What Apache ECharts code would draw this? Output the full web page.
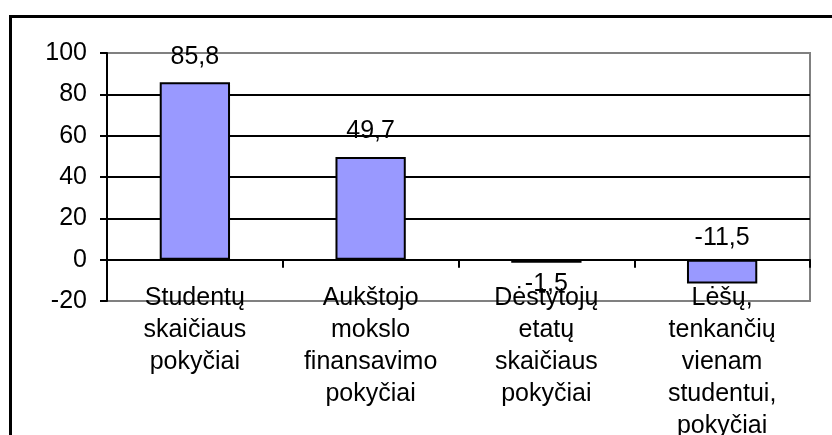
<!DOCTYPE html>
<html>
<head>
<meta charset="utf-8">
<script src="https://cdn.jsdelivr.net/npm/echarts@6/dist/echarts.min.js"></script>
<style>
  html, body { margin: 0; padding: 0; background: #fff; }
  #chart { width: 832px; height: 435px; }
</style>
</head>
<body>
<div id="chart"></div>
<script>
const categories = [
  'Studentų\nskaičiaus\npokyčiai',
  'Aukštojo\nmokslo\nfinansavimo\npokyčiai',
  'Dėstytojų\netatų\nskaičiaus\npokyčiai',
  'Lėšų,\ntenkančių\nvienam\nstudentui,\npokyčiai'
];
const changes = [85.8, 49.7, -1.5, -11.5];
const yTicks = { min: -20, max: 100, step: 20 };

// where the value label sits for each bar (as in the original chart)
const labelSide = ['top', 'top', 'bottom', 'top'];
const labelGap = [13, 13, 9, 9];

const font = '"Liberation Sans", Arial, sans-serif';
const chart = echarts.init(document.getElementById('chart'));

const option = {
  animation: false,
  backgroundColor: '#fff',
  textStyle: { fontFamily: font },
  grid: {
    left: 107, right: 22, top: 53, bottom: 134,
    outerBoundsMode: 'none',
    containLabel: false,
    show: true,
    borderColor: '#808080',
    borderWidth: 2,
    backgroundColor: '#fff'
  },
  graphic: [{
    type: 'rect',
    left: 8, top: 14,
    shape: { width: 900, height: 500 },
    style: { fill: 'none', stroke: '#000', lineWidth: 3 },
    silent: true
  }],
  xAxis: {
    type: 'category',
    data: categories,
    axisLine: { onZero: true, lineStyle: { color: '#000', width: 2 } },
    axisTick: { show: true, length: 8, lineStyle: { color: '#000', width: 2 } },
    axisLabel: {
      interval: 0,
      color: '#000',
      fontSize: 25,
      fontFamily: font,
      lineHeight: 32,
      margin: -19
    },
    splitLine: { show: false }
  },
  yAxis: {
    type: 'value',
    min: yTicks.min,
    max: yTicks.max,
    interval: yTicks.step,
    axisLine: { show: true, lineStyle: { color: '#000', width: 2 } },
    axisTick: { show: true, length: 7, lineStyle: { color: '#000', width: 2 } },
    axisLabel: { color: '#000', fontSize: 25, fontFamily: font, margin: 20 },
    splitLine: {
      show: true,
      showMinLine: false,
      showMaxLine: false,
      lineStyle: { color: '#000', width: 2 }
    }
  },
  series: [{
    type: 'bar',
    barWidth: '40%',
    data: changes.map((v, i) => ({
      value: v,
      label: { position: labelSide[i], distance: labelGap[i] }
    })),
    itemStyle: { color: '#9999FF', borderColor: '#000', borderWidth: 2 },
    label: {
      show: true,
      color: '#000',
      fontSize: 25,
      fontFamily: font,
      formatter: p => String(p.value).replace('.', ',')
    }
  }]
};

chart.setOption(option);
</script>
</body>
</html>
